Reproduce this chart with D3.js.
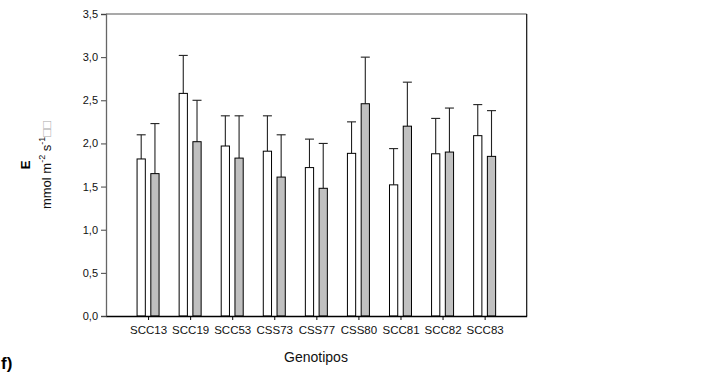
<!DOCTYPE html>
<html>
<head>
<meta charset="utf-8">
<script src="https://cdn.jsdelivr.net/npm/d3@7/dist/d3.min.js"></script>
<style>
  html, body { margin: 0; padding: 0; background: #fff; }
  text { font-family: "Liberation Sans", Arial, sans-serif; }
</style>
</head>
<body>
<script>
const categories = ["SCC13", "SCC19", "SCC53", "CSS73", "CSS77", "CSS80", "SCC81", "SCC82", "SCC83"];
const seriesNames = ["white", "grey"];
const whiteValues = [1.82, 2.58, 1.97, 1.91, 1.72, 1.885, 1.52, 1.88, 2.09];
const whiteErrTop = [2.10, 3.02, 2.32, 2.32, 2.05, 2.25, 1.94, 2.29, 2.45];
const greyValues  = [1.65, 2.02, 1.83, 1.61, 1.48, 2.46, 2.20, 1.90, 1.85];
const greyErrTop  = [2.23, 2.50, 2.32, 2.10, 2.00, 3.00, 2.71, 2.41, 2.38];
const yTicks = [0, 0.5, 1.0, 1.5, 2.0, 2.5, 3.0, 3.5];
const seriesFill = { white: "#ffffff", grey: "#c0c0c0" };

const W = 707, H = 383;
const mLeft = 106, mRight = 526.7, mTop = 14, mBottom = 316;

const svg = d3.select("body").append("svg").attr("width", W).attr("height", H);

const x = d3.scalePoint().domain(categories).range([mLeft, mRight]).padding(1);
const xs = d3.scaleBand().domain(seriesNames).range([-11, 11]).paddingInner(0.4);
const y = d3.scaleLinear().domain([0, 3.5]).range([mBottom, mTop]);

const fmt = d => d.toFixed(1).replace(".", ",");

// frame top & right
svg.append("line").attr("x1", mLeft).attr("x2", mRight).attr("y1", mTop).attr("y2", mTop)
  .attr("stroke", "#555").attr("stroke-width", 1.2);
svg.append("line").attr("x1", mRight).attr("x2", mRight).attr("y1", mTop).attr("y2", mBottom)
  .attr("stroke", "#111").attr("stroke-width", 1.2);

const data = [];
categories.forEach((c, i) => {
  data.push({ c, s: "white", v: whiteValues[i], e: whiteErrTop[i] });
  data.push({ c, s: "grey", v: greyValues[i], e: greyErrTop[i] });
});

// error bars
const eb = svg.append("g");
data.forEach(d => {
  const cx = x(d.c) + xs(d.s) + xs.bandwidth() / 2;
  eb.append("line").attr("x1", cx).attr("x2", cx).attr("y1", y(d.v)).attr("y2", y(d.e))
    .attr("stroke", "#222").attr("stroke-width", 1.1);
  eb.append("line").attr("x1", cx - 4.5).attr("x2", cx + 4.5).attr("y1", y(d.e)).attr("y2", y(d.e))
    .attr("stroke", "#222").attr("stroke-width", 1.1);
});

// bars
svg.append("g").selectAll("rect").data(data).join("rect")
  .attr("x", d => x(d.c) + xs(d.s))
  .attr("width", xs.bandwidth())
  .attr("y", d => y(d.v))
  .attr("height", d => y(0) - y(d.v))
  .attr("fill", d => seriesFill[d.s])
  .attr("stroke", "#000").attr("stroke-width", 1);

// y axis
const yAxis = svg.append("g").attr("transform", `translate(${mLeft},0)`)
  .call(d3.axisLeft(y).tickValues(yTicks).tickFormat(fmt).tickSize(5).tickPadding(3));
yAxis.select(".domain").attr("stroke", "#666").attr("stroke-width", 1.3);
yAxis.selectAll(".tick line").attr("stroke", "#444");
yAxis.selectAll("text").attr("font-size", 11).attr("fill", "#111")
  .style("font-family", '"Liberation Sans", Arial, sans-serif');

// x axis
const xAxis = svg.append("g").attr("transform", `translate(0,${mBottom})`)
  .call(d3.axisBottom(x).tickSize(4).tickPadding(6).tickSizeOuter(0));
xAxis.select(".domain").attr("stroke", "#000").attr("stroke-width", 1.3);
xAxis.selectAll(".tick line").attr("stroke", "#000");
xAxis.selectAll("text").attr("font-size", 11.5).attr("fill", "#111")
  .style("font-family", '"Liberation Sans", Arial, sans-serif');

// x title
svg.append("text").attr("x", 316).attr("y", 362).attr("text-anchor", "middle")
  .attr("font-size", 14).attr("fill", "#111").text("Genotipos");

// y title
const yc = (mTop + mBottom) / 2;
svg.append("text").attr("transform", `translate(30,${yc}) rotate(-90)`)
  .attr("text-anchor", "middle").attr("font-size", 13).attr("font-weight", "bold")
  .attr("fill", "#000").text("E");
const yl = svg.append("text").attr("transform", `translate(51,${yc}) rotate(-90)`)
  .attr("text-anchor", "middle").attr("font-size", 13).attr("fill", "#111");
yl.append("tspan").text("mmol m");
yl.append("tspan").attr("dy", -6).attr("font-size", 9).text("-2");
yl.append("tspan").attr("dy", 6).text(" s");
yl.append("tspan").attr("dy", -6).attr("font-size", 9).text("-1");
yl.append("tspan").attr("dy", 6).attr("fill", "#aaa").text("□□");

// panel label
svg.append("text").attr("x", 1).attr("y", 369).attr("font-size", 17).attr("font-weight", "bold")
  .attr("fill", "#000").text("f)");
</script>
</body>
</html>
